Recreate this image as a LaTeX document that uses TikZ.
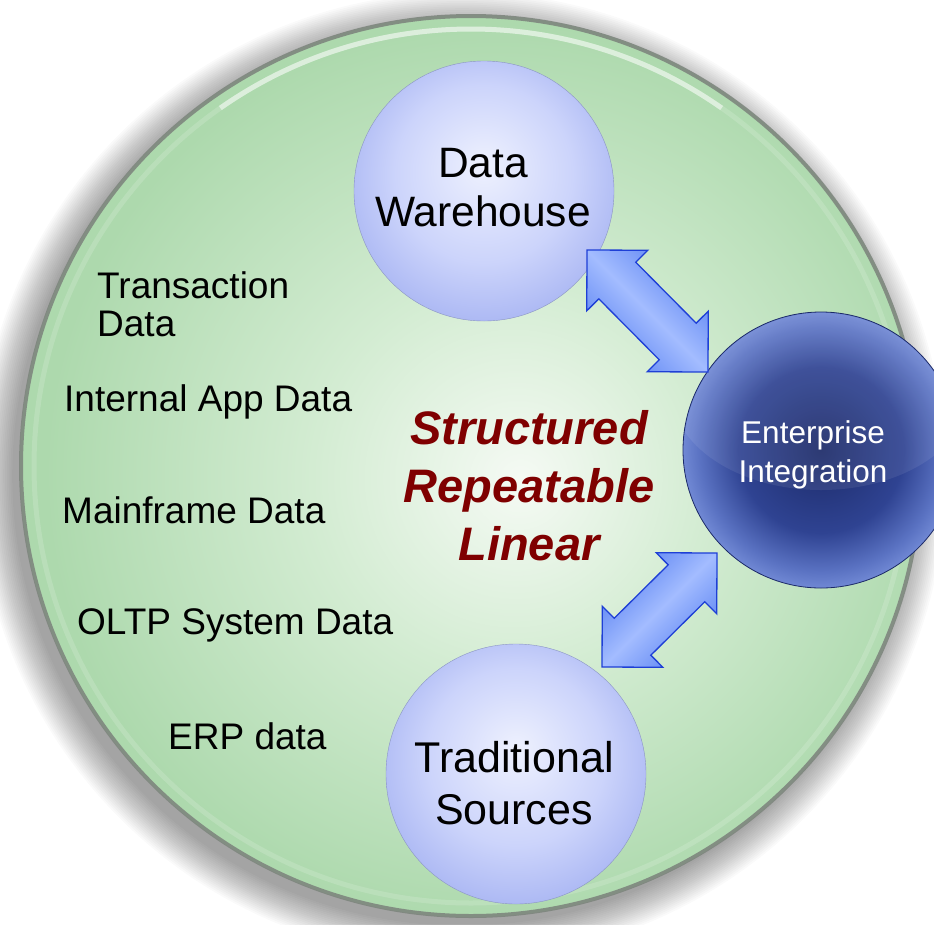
\documentclass[tikz,border=0pt]{standalone}
\usepackage{fontspec}
\setmainfont{Liberation Sans}
\usetikzlibrary{calc}
\definecolor{gcen}{HTML}{F5FAF4}
\definecolor{gmid}{HTML}{D3ECD2}
\definecolor{gout}{HTML}{ADD9AD}
\definecolor{ringc}{HTML}{7E867E}
\definecolor{lavcen}{HTML}{EEF1FE}
\definecolor{lavmid}{HTML}{CCD4FB}
\definecolor{lavout}{HTML}{AEBAF4}
\definecolor{navycen}{HTML}{1C2A68}
\definecolor{navymid}{HTML}{2F4392}
\definecolor{navyrim}{HTML}{5A72C2}
\definecolor{navyedge}{HTML}{7088D4}
\definecolor{arrowfill}{HTML}{5A82F2}
\definecolor{arrowlight}{HTML}{A3BCFF}
\definecolor{arrowedge}{HTML}{1E3FD6}
\definecolor{darkred}{HTML}{7F0000}
\pgfdeclareradialshading{greenbg}{\pgfpoint{2.8bp}{-0.8bp}}{color(0bp)=(gcen); color(11bp)=(gmid); color(25bp)=(gout); color(50bp)=(gout)}
\pgfdeclareradialshading{lavball}{\pgfpoint{0bp}{5bp}}{color(0bp)=(lavcen); color(17bp)=(lavmid); color(27bp)=(lavout); color(50bp)=(lavout)}
\pgfdeclareradialshading{navyball}{\pgfpoint{0bp}{0bp}}{color(0bp)=(navycen); color(15bp)=(navymid); color(22bp)=(navyrim); color(25bp)=(navyedge); color(50bp)=(navyedge)}
% double block arrow between two named coordinates
\newcommand{\dblarrow}[4]{% #1 prefix, #2 start, #3 end, #4 shading angle
  \path ($(#2)!43pt!(#3)$) coordinate (#1h1)
        ($(#3)!43pt!(#2)$) coordinate (#1h2);
  \shade[top color=arrowfill, bottom color=arrowfill, middle color=arrowlight,
         shading angle=#4, draw=arrowedge, line width=1.3pt, line join=miter]
    (#2) -- ($(#1h1)!43pt!90:(#3)$) -- ($(#1h1)!26pt!90:(#3)$)
    -- ($(#1h2)!26pt!-90:(#2)$) -- ($(#1h2)!43pt!-90:(#2)$) -- (#3)
    -- ($(#1h2)!43pt!90:(#2)$) -- ($(#1h2)!26pt!90:(#2)$)
    -- ($(#1h1)!26pt!-90:(#3)$) -- ($(#1h1)!43pt!-90:(#3)$) -- cycle;
}
\begin{document}
\begin{tikzpicture}[x=1pt,y=-1pt,
  lavnode/.style={circle, minimum size=260pt, inner sep=0pt, shade, shading=lavball,
                  draw=lavout!80!black, line width=0.4pt},
  navynode/.style={circle, minimum size=276pt, inner sep=0pt, shade, shading=navyball,
                  draw=navycen, line width=0.8pt},
  balltext/.style={align=center, inner sep=0pt},
  sidetext/.style={font=\fontsize{37}{38}\selectfont, text=black, inner sep=0pt, align=left},
  keytext/.style={font=\fontsize{47}{58}\selectfont\bfseries\itshape, text=darkred, align=center, inner sep=0pt}]
\useasboundingbox (0,0) rectangle (934,924);
\fill[white] (0,0) rectangle (934,924);
% soft shadow of the main disc
\foreach \i in {1,...,20}
  \fill[black, opacity=0.02] (462,476) circle (448+1.8*\i);
% main disc
\shade[shading=greenbg] (471,466) circle (451);
\draw[white, opacity=0.15, line width=5pt] (471,466) circle (437);
\draw[white, opacity=0.5, line width=5pt] (471,466) ++(-125:437) arc[start angle=-125, end angle=-55, radius=437];
\draw[ringc, line width=4pt, opacity=0.9] (471,466) circle (450);
% circles
\node[lavnode] (dw) at (484,191) {};
\node[lavnode] (ts) at (516,774) {};
\node[navynode] (ei) at (821,450) {};
% gloss on the dark ball
\begin{scope}
  \clip (ei.center) circle (137);
  \fill[white, opacity=0.08] ($(ei.center)+(0,-60)$) ellipse (150 and 100);
\end{scope}
% circle labels
\node[balltext, font=\fontsize{42.5}{49}\selectfont, text=black, anchor=base] (dwt) at ($(dw.center)+(-1,35)$) {Data\\Warehouse};
\node[balltext, font=\fontsize{43}{52}\selectfont, text=black, anchor=base] (tst) at ($(ts.center)+(-2,50)$) {Traditional\\Sources};
\node[balltext, font=\fontsize{31.5}{39}\selectfont, text=white, anchor=base] (eit) at ($(ei.center)+(-8,32)$) {Enterprise\\Integration};
% texts
\node[sidetext, anchor=base west] (tr) at (97,336) {Transaction\\Data};
\node[sidetext, anchor=base west] (ia) at (64,411) {Internal App Data};
\node[sidetext, anchor=base west] (mf) at (62,523) {Mainframe Data};
\node[sidetext, anchor=base west] (ol) at (77,634) {OLTP System Data};
\node[sidetext, anchor=base west] (erp) at (168,749) {ERP data};
\node[keytext, anchor=base] (key) at (529,560) {Structured\\Repeatable\\Linear};
% arrows
\coordinate (a1s) at (587,250);
\coordinate (a1e) at (708,372);
\coordinate (a2s) at (602,667);
\coordinate (a2e) at (717,553);
\dblarrow{u}{a1s}{a1e}{-45}
\dblarrow{l}{a2s}{a2e}{45}
\end{tikzpicture}
\end{document}
